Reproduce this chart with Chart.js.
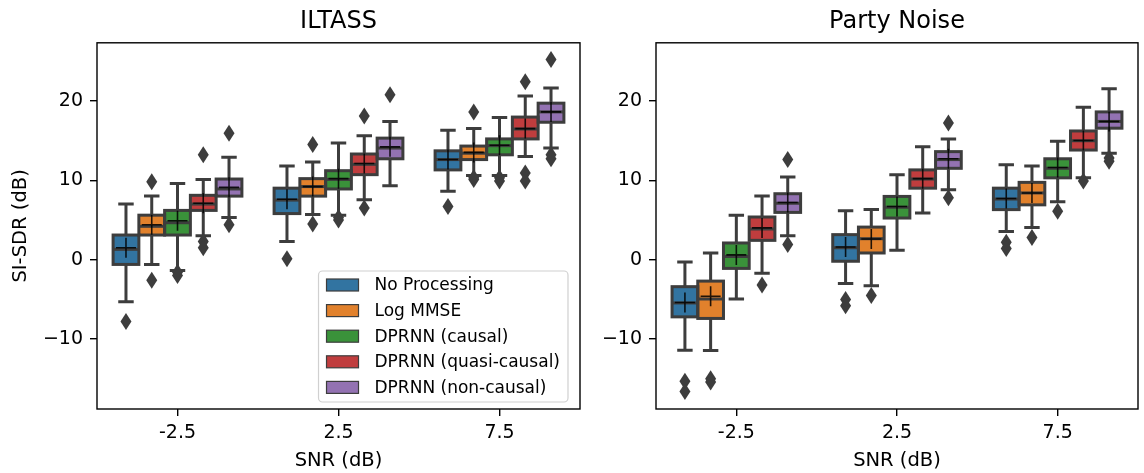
<!DOCTYPE html>
<html>
<head>
<meta charset="utf-8">
<script src="https://cdn.jsdelivr.net/npm/chart.js@4.4.0/dist/chart.umd.min.js"></script>
<style>
  html, body { margin: 0; padding: 0; background: #fff; }
  #wrap { position: relative; width: 1144px; height: 473px; }
  .panel { position: absolute; top: 0; height: 473px; }
  #left { left: 0; width: 590px; }
  #right { left: 590px; width: 554px; }
</style>
</head>
<body>
<div id="wrap">
  <div class="panel" id="left"><canvas id="c1" width="590" height="473"></canvas></div>
  <div class="panel" id="right"><canvas id="c2" width="554" height="473"></canvas></div>
</div>
<script>
// Categories and series
const snrLabels = ['-2.5', '2.5', '7.5'];
const methods = ['No Processing', 'Log MMSE', 'DPRNN (causal)', 'DPRNN (quasi-causal)', 'DPRNN (non-causal)'];
const colors = ['#3274a1', '#e1812c', '#3a923a', '#c03d3e', '#9372b2'];
const yTicks = [-10, 0, 10, 20];

// ILTASS - rows are methods, columns are SNR (-2.5, 2.5, 7.5)
const iltassLo   = [[-5.3, 2.3, 8.6], [-0.6, 5.7, 10.6], [-1.35, 5.6, 10.6], [3.0, 7.55, 13.0], [5.3, 9.3, 14.05]];
const iltassQ1   = [[-0.6, 5.8, 11.3], [3.1, 8.0, 12.6], [3.1, 8.9, 13.2], [6.2, 10.7, 15.2], [8.0, 12.7, 17.3]];
const iltassMed  = [[1.3, 7.5, 12.6], [4.2, 9.2, 13.4], [4.65, 10.1, 14.35], [7.0, 12.0, 16.45], [8.9, 14.05, 18.6]];
const iltassMean = [[1.5, 7.6, 12.6], [4.4, 9.2, 13.5], [4.9, 10.2, 14.4], [7.1, 12.1, 16.5], [9.1, 14.2, 18.6]];
const iltassQ3   = [[3.1, 9.0, 13.7], [5.6, 10.2, 14.3], [6.2, 11.2, 15.2], [8.1, 13.3, 17.95], [10.15, 15.3, 19.7]];
const iltassHi   = [[7.0, 11.8, 16.3], [8.0, 12.3, 16.5], [9.6, 14.7, 17.9], [10.1, 15.6, 20.6], [12.9, 17.4, 21.6]];
const iltassFliers = [
  [[-7.8], [0.1], [6.7]],
  [[9.8, -2.6], [14.5, 4.5], [18.6, 10.1, 10.3]],
  [[-1.6, -2.0], [5.3, 5.0], [10.3, 9.9]],
  [[13.2, 2.3, 1.5], [18.1, 6.5], [22.4, 10.9, 9.9]],
  [[15.9, 4.4], [20.75], [25.2, 13.2, 12.7]]
];

// Party Noise
const partyLo   = [[-11.4, -3.0, 3.56], [-11.45, -3.27, 4.06], [-4.95, 1.17, 7.3], [-1.7, 5.87, 10.3], [3.0, 8.8, 13.4]];
const partyQ1   = [[-7.2, -0.2, 6.3], [-7.4, 0.84, 6.9], [-1.1, 5.24, 10.3], [2.43, 9.0, 13.8], [5.95, 11.5, 16.55]];
const partyMed  = [[-5.45, 1.5, 7.63], [-4.95, 2.64, 8.4], [0.4, 6.6, 11.5], [3.86, 10.15, 14.97], [7.1, 12.6, 17.4]];
const partyMean = [[-5.4, 1.6, 7.7], [-4.6, 2.6, 8.4], [0.6, 6.7, 11.6], [4.0, 10.2, 15.0], [7.2, 12.7, 17.4]];
const partyQ3   = [[-3.4, 3.15, 9.0], [-2.7, 4.1, 9.73], [2.1, 7.96, 12.7], [5.37, 11.3, 16.2], [8.3, 13.6, 18.6]];
const partyHi   = [[-0.3, 6.16, 11.95], [0.84, 6.3, 11.8], [5.6, 10.7, 14.9], [8.0, 14.2, 19.2], [10.4, 15.2, 21.5]];
const partyFliers = [
  [[-15.3, -16.6], [-5.0, -5.8], [2.2, 1.4]],
  [[-15.0, -15.4], [-4.5], [2.8]],
  [[], [], [6.1]],
  [[-3.2], [], [9.9]],
  [[1.9, 12.6], [7.8, 17.2], [12.8, 12.4]]
];

const FONT = 'DejaVu Sans';
const EDGE = '#3d3d3d';

function makeBoxPlugin(st, showLegend) {
  return {
    id: 'boxes',
    beforeDatasetsDraw(chart) {
      const ctx = chart.ctx, y = chart.scales.y;
      ctx.save();
      ctx.strokeStyle = EDGE;
      ctx.lineWidth = 3;
      methods.forEach((m, i) => {
        chart.getDatasetMeta(i).data.forEach((bar, j) => {
          const cx = bar.x, cw = bar.width * 0.6;
          const yLo = y.getPixelForValue(st.lo[i][j]);
          const yHi = y.getPixelForValue(st.hi[i][j]);
          ctx.beginPath();
          ctx.moveTo(cx, y.getPixelForValue(st.q1[i][j])); ctx.lineTo(cx, yLo);
          ctx.moveTo(cx, y.getPixelForValue(st.q3[i][j])); ctx.lineTo(cx, yHi);
          ctx.moveTo(cx - cw / 2, yLo); ctx.lineTo(cx + cw / 2, yLo);
          ctx.moveTo(cx - cw / 2, yHi); ctx.lineTo(cx + cw / 2, yHi);
          ctx.stroke();
        });
      });
      ctx.restore();
    },
    afterDatasetsDraw(chart) {
      const ctx = chart.ctx, y = chart.scales.y, area = chart.chartArea;
      ctx.save();
      methods.forEach((m, i) => {
        chart.getDatasetMeta(i).data.forEach((bar, j) => {
          const cx = bar.x, w = bar.width;
          const t = y.getPixelForValue(st.q3[i][j]);
          const b = y.getPixelForValue(st.q1[i][j]);
          // box edge
          ctx.strokeStyle = EDGE;
          ctx.lineWidth = 3;
          ctx.strokeRect(cx - w / 2, t, w, b - t);
          // median
          const ym = y.getPixelForValue(st.med[i][j]);
          ctx.beginPath();
          ctx.moveTo(cx - w / 2, ym); ctx.lineTo(cx + w / 2, ym);
          ctx.stroke();
          // mean marker "+"
          const ya = y.getPixelForValue(st.mean[i][j]);
          ctx.strokeStyle = 'rgba(0,0,0,0.85)';
          ctx.lineWidth = 1.6;
          ctx.beginPath();
          ctx.moveTo(cx - 10, ya); ctx.lineTo(cx + 10, ya);
          ctx.moveTo(cx, ya - 10); ctx.lineTo(cx, ya + 10);
          ctx.stroke();
          // outliers
          ctx.fillStyle = EDGE;
          st.fliers[i][j].forEach(v => {
            const py = y.getPixelForValue(v);
            ctx.beginPath();
            ctx.moveTo(cx, py - 8.5);
            ctx.lineTo(cx + 5.5, py);
            ctx.lineTo(cx, py + 8.5);
            ctx.lineTo(cx - 5.5, py);
            ctx.closePath();
            ctx.fill();
          });
        });
      });
      // axes frame
      ctx.strokeStyle = '#000';
      ctx.lineWidth = 1.4;
      ctx.strokeRect(area.left, area.top, area.right - area.left, area.bottom - area.top);

      if (showLegend) {
        ctx.font = '17px "' + FONT + '"';
        const tw = Math.max(...methods.map(s => ctx.measureText(s).width));
        const bw = 8 + 32 + 16 + tw + 8;
        const rowH = 25.6;
        const bh = rowH * methods.length + 3;
        const bx = area.right - 12 - bw;
        const by = area.bottom - 7 - bh;
        ctx.beginPath();
        ctx.roundRect(bx, by, bw, bh, 4);
        ctx.fillStyle = 'rgba(255,255,255,0.85)';
        ctx.fill();
        ctx.strokeStyle = '#d0d0d0';
        ctx.lineWidth = 1.2;
        ctx.stroke();
        ctx.textBaseline = 'middle';
        methods.forEach((m, i) => {
          const ry = by + 14 + i * rowH;
          ctx.fillStyle = colors[i];
          ctx.fillRect(bx + 8, ry - 6, 32, 12);
          ctx.strokeStyle = EDGE;
          ctx.lineWidth = 1.2;
          ctx.strokeRect(bx + 8, ry - 6, 32, 12);
          ctx.fillStyle = '#000';
          ctx.fillText(m, bx + 56, ry + 1);
        });
      }
      ctx.restore();
    }
  };
}

function makeChart(id, title, st, yWidth, rightPad, showYTitle, showLegend) {
  const datasets = methods.map((m, i) => ({
    label: m,
    data: snrLabels.map((s, j) => [st.q1[i][j], st.q3[i][j]]),
    backgroundColor: colors[i],
    borderWidth: 0,
    barPercentage: 1.0,
    categoryPercentage: 0.8
  }));
  return new Chart(document.getElementById(id), {
    type: 'bar',
    data: { labels: snrLabels, datasets: datasets },
    options: {
      responsive: false,
      animation: false,
      layout: { padding: { left: 0, right: rightPad, top: 0, bottom: 0 } },
      plugins: {
        legend: { display: false },
        tooltip: { enabled: false },
        title: {
          display: true, text: title, fullSize: false, color: '#000',
          font: { family: FONT, size: 24, weight: 'normal' },
          padding: { top: 7, bottom: 7 }
        }
      },
      scales: {
        x: {
          grid: { display: true, offset: false, drawOnChartArea: false, drawTicks: true, tickLength: 7, color: '#000', lineWidth: 1.4 },
          border: { display: false },
          ticks: { color: '#000', font: { family: FONT, size: 19 }, padding: 6, maxRotation: 0 },
          title: { display: true, text: 'SNR (dB)', color: '#000', font: { family: FONT, size: 19.5 }, padding: { top: 0, bottom: 0 } },
          afterFit(scale) { scale.height = 64; }
        },
        y: {
          min: -18.8, max: 27.3,
          afterBuildTicks(scale) { scale.ticks = yTicks.map(v => ({ value: v })); },
          grid: { display: true, drawOnChartArea: false, drawTicks: true, tickLength: 7, color: '#000', lineWidth: 1.4 },
          border: { display: false },
          ticks: {
            color: '#000', font: { family: FONT, size: 19 }, padding: 7,
            callback: v => (v < 0 ? '\u2212' + Math.abs(v) : String(v))
          },
          title: { display: showYTitle, text: 'SI-SDR (dB)', color: '#000', font: { family: FONT, size: 19.5 }, padding: { top: 9, bottom: 9 } },
          afterFit(scale) { scale.width = yWidth; }
        }
      }
    },
    plugins: [makeBoxPlugin(st, showLegend)]
  });
}

makeChart('c1', 'ILTASS', {
  lo: iltassLo, q1: iltassQ1, med: iltassMed, mean: iltassMean, q3: iltassQ3, hi: iltassHi, fliers: iltassFliers
}, 97, 10, true, true);

makeChart('c2', 'Party Noise', {
  lo: partyLo, q1: partyQ1, med: partyMed, mean: partyMean, q3: partyQ3, hi: partyHi, fliers: partyFliers
}, 66, 6, false, false);
</script>
</body>
</html>
